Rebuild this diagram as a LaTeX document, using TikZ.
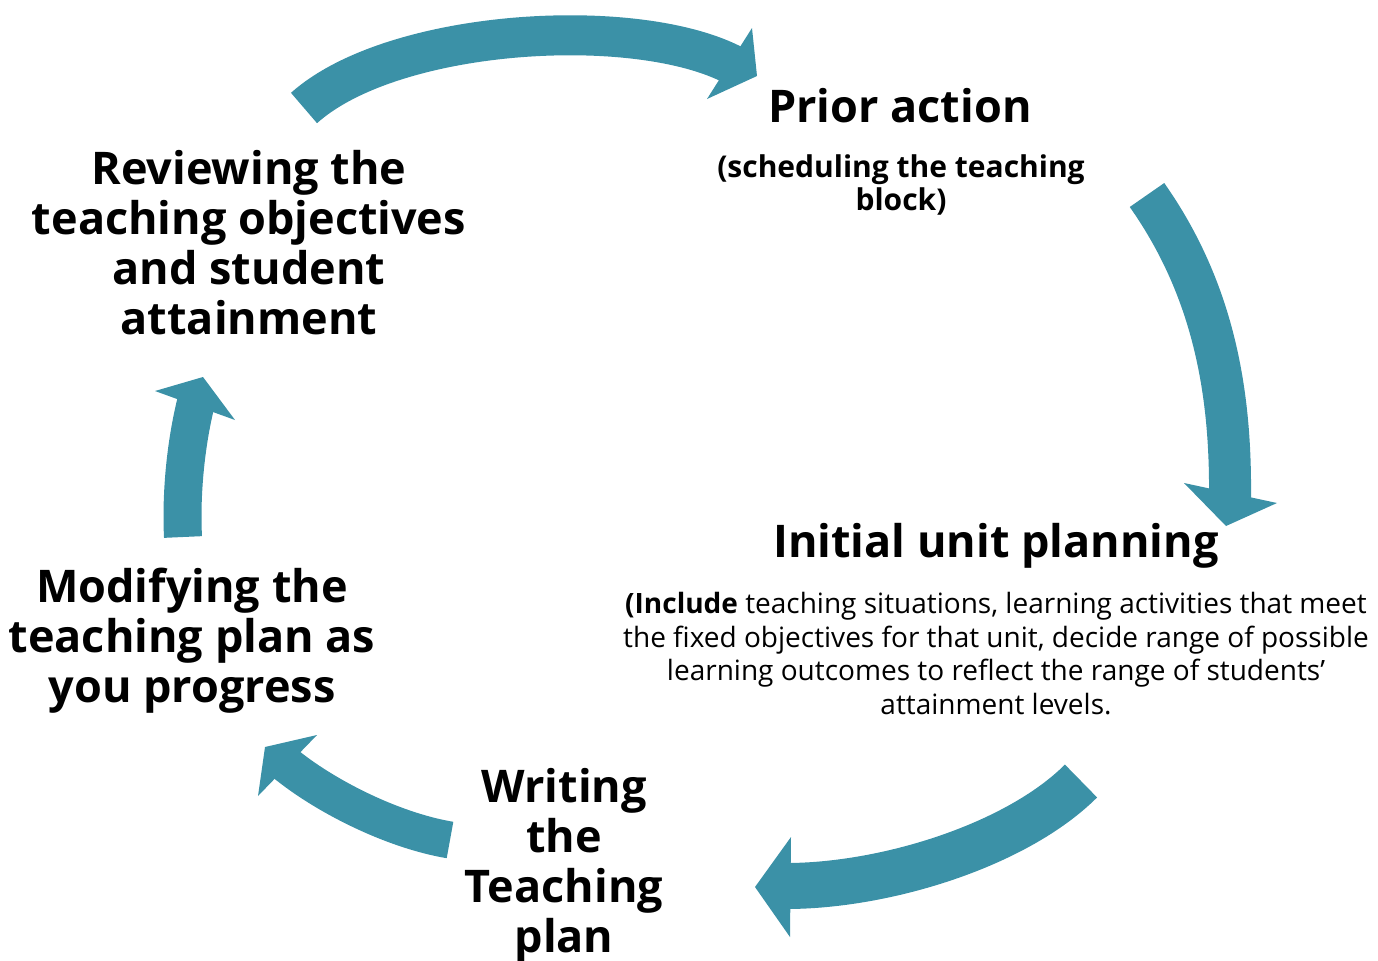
\documentclass[tikz,border=0pt]{standalone}
\usepackage{fontspec}
\setmainfont{Open Sans}
\definecolor{arrowteal}{RGB}{59,145,167}
\tikzset{
  headtext/.style={font=\bfseries\fontsize{22.5}{25}\selectfont, align=center, anchor=base, inner sep=0pt},
  subtext/.style={font=\bfseries\fontsize{15}{16.5}\selectfont, align=center, anchor=base, inner sep=0pt},
  paratext/.style={font=\fontsize{14}{16.75}\selectfont, align=center, anchor=base, inner sep=0pt},
  band/.style={draw=arrowteal, line cap=butt, line join=round},
  arrowhead/.style={fill=arrowteal},
}
\begin{document}
\begin{tikzpicture}[x=0.5pt,y=-0.5pt]
\useasboundingbox (0,0) rectangle (1378,960);

% labels (anchor = baseline of the last line)
\node[headtext] (prior) at (900,122) {Prior action};
\node[subtext] (priorsub) at (901,210) {(scheduling the teaching\\block)};
\node[headtext] (initial) at (996,557) {Initial unit planning};
\node[paratext] (initialsub) at (996,714) {\textbf{(Include} teaching situations, learning activities that meet\\the fixed objectives for that unit, decide range of possible\\learning outcomes to reflect the range of students’\\attainment levels.};
\node[headtext] (writing) at (564,952) {Writing\\the\\Teaching\\plan};
\node[headtext] (modifying) at (192,702) {Modifying the\\teaching plan as\\you progress};
\node[headtext] (reviewing) at (249,334) {Reviewing the\\teaching objectives\\and student\\attainment};

% arrow 1: reviewing -> prior
\coordinate (a1s) at (304,108);
\coordinate (a1e) at (735,66);
\coordinate (a1l) at (752,28);
\coordinate (a1t) at (757,76);
\coordinate (a1r) at (707,99);
\draw[band, line width=20pt] (a1s) .. controls (393.5,28) and (638,14) .. (a1e);
\fill[arrowhead] (a1l) -- (a1t) -- (a1r) -- cycle;

% arrow 2: prior -> initial
\coordinate (a2s) at (1147,195);
\coordinate (a2e) at (1230,498);
\coordinate (a2l) at (1184,483);
\coordinate (a2t) at (1226,526);
\coordinate (a2r) at (1277,503);
\draw[band, line width=21pt] (a2s) .. controls (1216,293) and (1231,398) .. (a2e);
\fill[arrowhead] (a2l) -- (a2t) -- (a2r) -- cycle;

% arrow 3: initial -> writing
\coordinate (a3s) at (1081,781);
\coordinate (a3e) at (786,886);
\coordinate (a3l) at (791,837);
\coordinate (a3t) at (755,887);
\coordinate (a3r) at (790,937);
\draw[band, line width=23pt] (a3s) .. controls (1017,845) and (886,886) .. (a3e);
\fill[arrowhead] (a3l) -- (a3t) -- (a3r) -- cycle;

% arrow 4: writing -> modifying
\coordinate (a4s) at (450,840);
\coordinate (a4e) at (283.6,762.3);
\coordinate (a4l) at (317,735);
\coordinate (a4t) at (265,747);
\coordinate (a4r) at (258,796);
\draw[band, line width=18.5pt] (a4s) .. controls (391,830) and (323,795) .. (a4e);
\fill[arrowhead] (a4l) -- (a4t) -- (a4r) -- cycle;

% arrow 5: modifying -> reviewing
\coordinate (a5s) at (183,537);
\coordinate (a5e) at (196.4,400.7);
\coordinate (a5l) at (155,391);
\coordinate (a5t) at (203,377);
\coordinate (a5r) at (235,420);
\draw[band, line width=19pt] (a5s) .. controls (181,497) and (185,446) .. (a5e);
\fill[arrowhead] (a5l) -- (a5t) -- (a5r) -- cycle;
\end{tikzpicture}
\end{document}
